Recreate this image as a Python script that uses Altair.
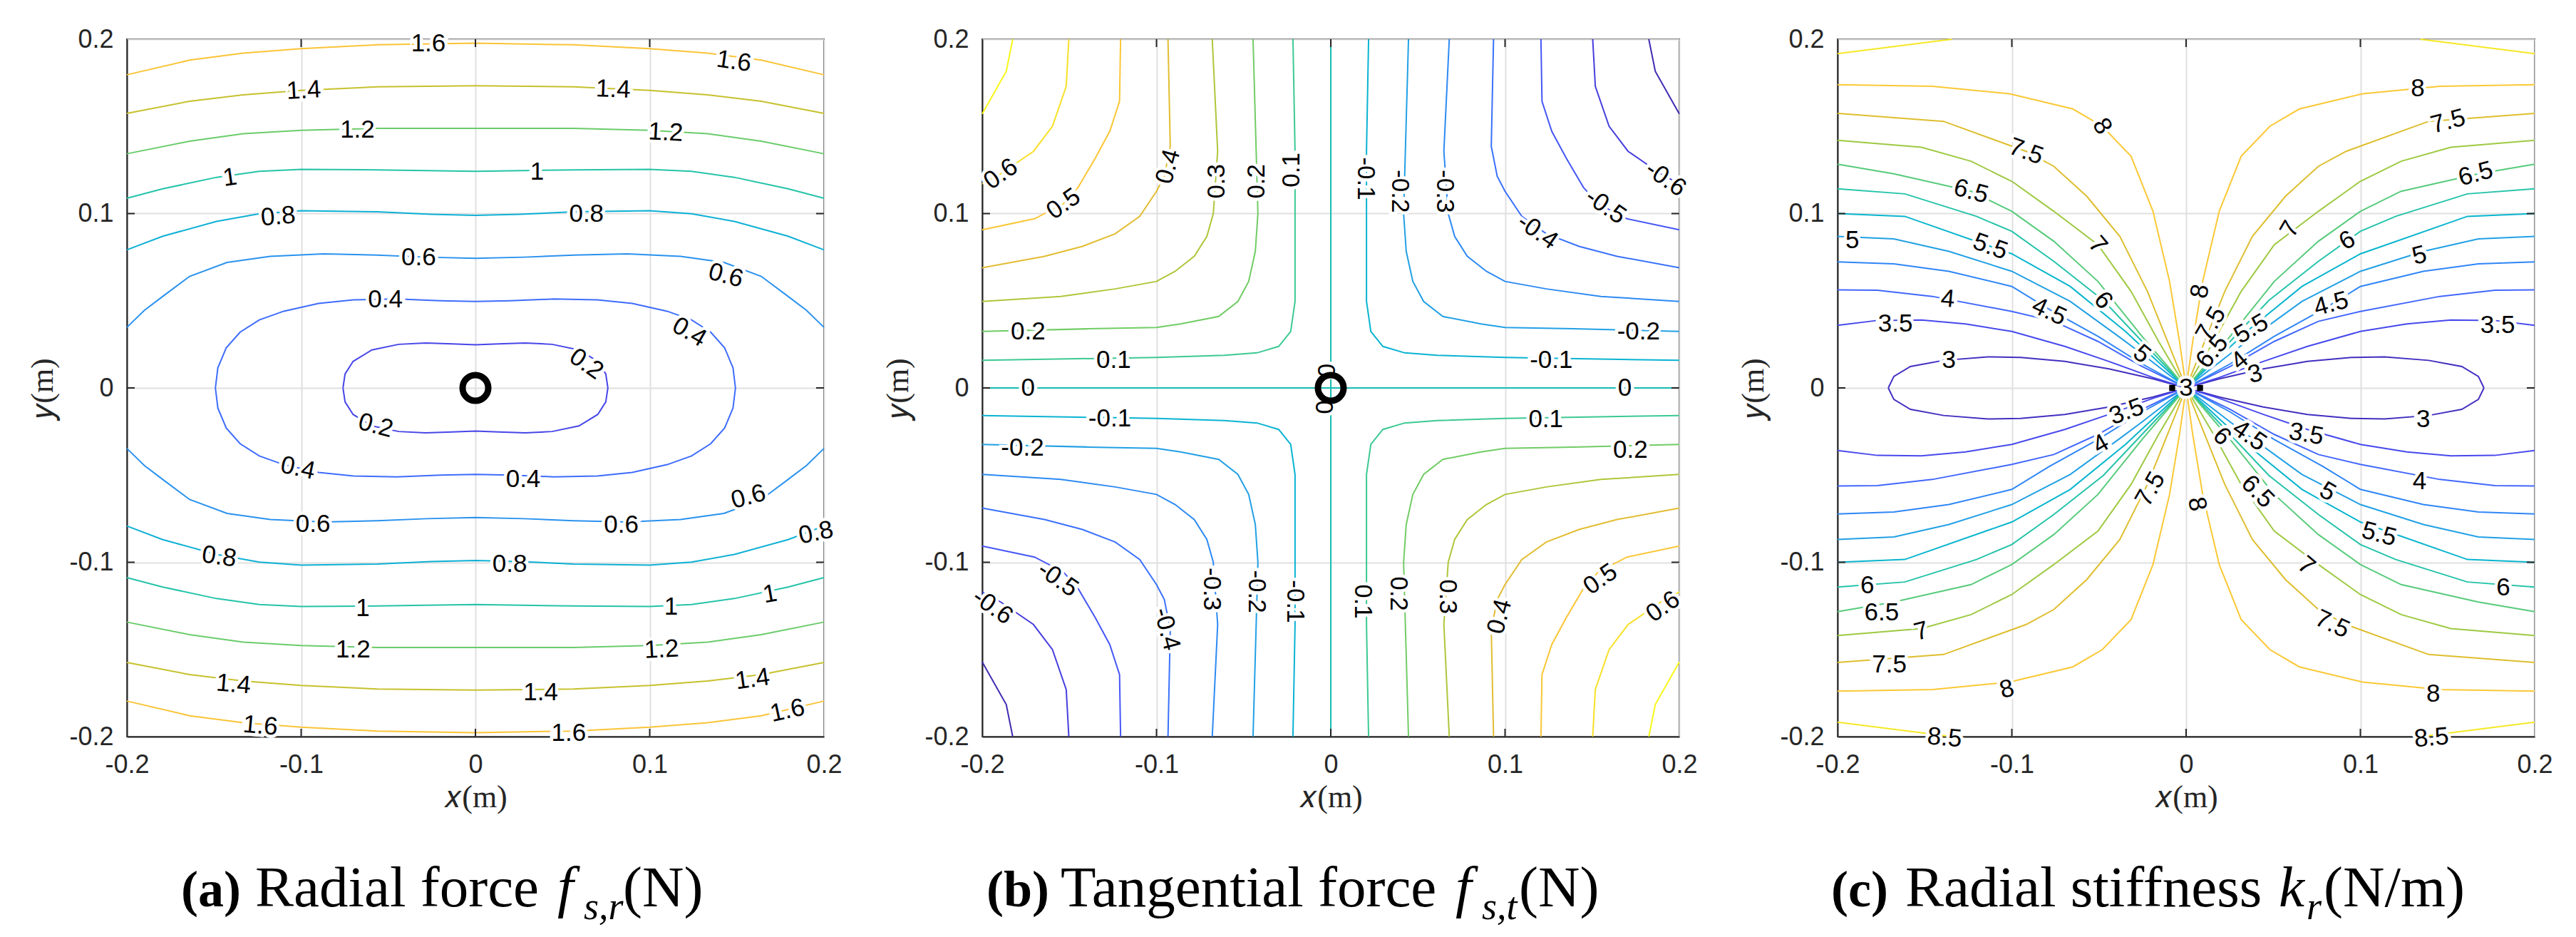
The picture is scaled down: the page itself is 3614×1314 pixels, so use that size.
import altair as alt
import pandas as pd

# ------------------------------------------------------------------
# Axis ticks shared by the three panels
TICKS = [-0.2, -0.1, 0.0, 0.1, 0.2]
INNER_TICKS = [-0.1, 0.0, 0.1]

# ------------------------------------------------------------------
# (a) Radial force: readings of the upper-left quadrant (x<=0, y>=0)
A_LEVELS = [0.2, 0.4, 0.6, 0.8, 1.0, 1.2, 1.4, 1.6]
A_LOOP_02 = [(-0.0760, 0.0), (-0.0748, 0.0080), (-0.0702, 0.0152), (-0.0594, 0.0218),
             (-0.0440, 0.0250), (-0.0286, 0.0258), (-0.0132, 0.0253), (0.0, 0.0247)]
A_LOOP_04 = [(-0.1492, 0.0), (-0.1478, 0.0115), (-0.1430, 0.0230), (-0.1350, 0.0320),
             (-0.1240, 0.0390), (-0.1100, 0.0440), (-0.0900, 0.0485), (-0.0700, 0.0505),
             (-0.0450, 0.0510), (-0.0200, 0.0500), (0.0, 0.0496)]
A_OPEN_06 = [(-0.2, 0.0347), (-0.19, 0.0445), (-0.1794, 0.0525), (-0.164, 0.064), (-0.1425, 0.072),
             (-0.1178, 0.0755), (-0.0871, 0.0769), (-0.0563, 0.0762), (-0.028, 0.0750), (0.0, 0.0743)]
A_OPEN_08 = [(-0.2, 0.0792), (-0.1794, 0.0870), (-0.1486, 0.0955), (-0.124, 0.0999), (-0.1, 0.1016),
             (-0.0563, 0.1010), (-0.0255, 0.0996), (0.0, 0.0990)]
A_OPEN_10 = [(-0.2, 0.1088), (-0.1794, 0.1142), (-0.1486, 0.1208), (-0.124, 0.1242), (-0.1, 0.1254),
             (-0.0563, 0.1251), (0.0, 0.1242)]
A_OPEN_12 = [(-0.2, 0.1343), (-0.164, 0.1415), (-0.1332, 0.1458), (-0.1, 0.1478), (-0.0563, 0.1489), (0.0, 0.1489)]
A_OPEN_14 = [(-0.2, 0.1575), (-0.164, 0.1644), (-0.1332, 0.1681), (-0.1, 0.1707), (-0.0563, 0.1727), (0.0, 0.1733)]
A_OPEN_16 = [(-0.2, 0.1796), (-0.164, 0.1880), (-0.1332, 0.1920), (-0.1, 0.1946), (-0.0563, 0.1968), (0.0, 0.1977)]
A_LABELS = [
    (-0.027, 0.1977, "1.6", 0), (0.1483, 0.1874, "1.6", 8),
    (-0.0985, 0.1707, "1.4", 357), (0.079, 0.1713, "1.4", 2),
    (-0.0677, 0.1482, "1.2", 0), (0.1092, 0.1466, "1.2", 3),
    (-0.1409, 0.1208, "1", 352), (0.0354, 0.1240, "1", 0),
    (-0.1132, 0.0984, "0.8", 355), (0.0637, 0.0999, "0.8", 0),
    (-0.0326, 0.0750, "0.6", 0), (0.1437, 0.0646, "0.6", 15),
    (-0.0517, 0.0508, "0.4", 0), (0.1228, 0.0321, "0.4", 30),
    (0.0637, 0.0138, "0.2", 35), (-0.0572, -0.0215, "0.2", 15),
    (-0.1018, -0.0459, "0.4", 12), (0.0274, -0.0525, "0.4", 0),
    (-0.0932, -0.0780, "0.6", 0), (0.0837, -0.0786, "0.6", 0), (0.1566, -0.0623, "0.6", 345),
    (-0.147, -0.0967, "0.8", 8), (0.0197, -0.1010, "0.8", 0), (0.1954, -0.0830, "0.8", 348),
    (-0.0646, -0.1262, "1", 0), (0.1123, -0.1254, "1", 0), (0.169, -0.1182, "1", 350),
    (-0.0702, -0.1500, "1.2", 0), (0.1068, -0.1500, "1.2", 357),
    (-0.1388, -0.1699, "1.4", 5), (0.0375, -0.1745, "1.4", 0), (0.159, -0.1670, "1.4", 352),
    (-0.1234, -0.1937, "1.6", 5), (0.0535, -0.1980, "1.6", 0), (0.179, -0.1850, "1.6", 348),
]

# ------------------------------------------------------------------
# (b) Tangential force: upper-left quadrant readings, from top edge to left edge
B_LEVELS = [-0.7, -0.6, -0.5, -0.4, -0.3, -0.2, -0.1, 0.0, 0.1, 0.2, 0.3, 0.4, 0.5, 0.6, 0.7]
B_Q_01 = [(-0.0217, 0.2), (-0.0205, 0.1357), (-0.0205, 0.0496), (-0.0230, 0.0324), (-0.0299, 0.0238),
          (-0.0424, 0.0201), (-0.0611, 0.0187), (-0.1, 0.0175), (-0.2, 0.0158)]
B_Q_02 = [(-0.0446, 0.2), (-0.0418, 0.1), (-0.0433, 0.0783), (-0.0471, 0.0611), (-0.0533, 0.0496),
          (-0.0643, 0.0410), (-0.0862, 0.0367), (-0.1, 0.0347), (-0.1393, 0.0339), (-0.2, 0.0324)]
B_Q_03 = [(-0.068, 0.2), (-0.0649, 0.1357), (-0.0674, 0.1), (-0.0711, 0.0869), (-0.0783, 0.0755),
          (-0.0893, 0.0669), (-0.1, 0.0611), (-0.1237, 0.0568), (-0.155, 0.0525), (-0.2, 0.0496)]
B_Q_04 = [(-0.0934, 0.2), (-0.0921, 0.1386), (-0.0955, 0.1214), (-0.1, 0.1128), (-0.1096, 0.0984),
          (-0.1237, 0.0884), (-0.1425, 0.0812), (-0.1643, 0.0755), (-0.2, 0.0689)]
B_Q_05 = [(-0.1206, 0.2), (-0.1212, 0.1644), (-0.1268, 0.1472), (-0.135, 0.1320), (-0.145, 0.1150),
          (-0.1534, 0.1056), (-0.17, 0.0970), (-0.2, 0.0907)]
B_Q_06 = [(-0.1503, 0.2), (-0.1518, 0.1730), (-0.1597, 0.1501), (-0.1706, 0.1357), (-0.1894, 0.1228), (-0.2, 0.1170)]
B_Q_07 = [(-0.1825, 0.2), (-0.1862, 0.1816), (-0.2, 0.1572)]
B_ZERO_H = [(-0.2, 0.0), (0.2, 0.0)]
B_ZERO_V = [(0.0, 0.2), (0.0, -0.2)]
B_LABELS = [
    (-0.1894, 0.1228, "0.6", 325), (-0.1534, 0.1056, "0.5", 325), (-0.0934, 0.127, "0.4", 285),
    (-0.0655, 0.1185, "0.3", 270), (-0.0424, 0.1185, "0.2", 270), (-0.0225, 0.1250, "0.1", 270),
    (0.0202, 0.12, "-0.1", 90), (0.0396, 0.1128, "-0.2", 90), (0.0655, 0.1128, "-0.3", 90),
    (0.1187, 0.0898, "-0.4", 35), (0.1578, 0.1042, "-0.5", 35), (0.1922, 0.12, "-0.6", 35),
    (-0.1737, 0.0324, "0.2", 0), (-0.1246, 0.0158, "0.1", 0), (-0.1737, 0.0, "0", 0),
    (0.1766, 0.0324, "-0.2", 0), (0.1265, 0.0158, "-0.1", 0), (0.1687, 0.0, "0", 0),
    (-0.1268, -0.0175, "-0.1", 0), (-0.1769, -0.0345, "-0.2", 0),
    (0.1234, -0.0180, "0.1", 0), (0.1719, -0.0355, "0.2", 0),
    (-0.0205, -0.1225, "-0.1", 90), (-0.0424, -0.1168, "-0.2", 90), (-0.0683, -0.1154, "-0.3", 90),
    (-0.094, -0.1383, "-0.4", 75), (-0.1565, -0.1096, "-0.5", 35), (-0.194, -0.1254, "-0.6", 35),
    (0.0186, -0.1225, "0.1", 90), (0.039, -0.118, "0.2", 90), (0.0671, -0.1197, "0.3", 90),
    (0.0968, -0.1311, "0.4", 285), (0.1547, -0.1096, "0.5", 325), (0.1906, -0.1254, "0.6", 325),
    (-0.002, 0.010, "0", 270), (-0.004, -0.011, "0", 90),
]

# ------------------------------------------------------------------
# (c) Radial stiffness: upper-left quadrant readings, from left edge to the origin
C_LEVELS = [3.0, 3.5, 4.0, 4.5, 5.0, 5.5, 6.0, 6.5, 7.0, 7.5, 8.0, 8.5]
C_LOBE_3 = [(-0.1709, 0.0), (-0.1677, 0.0066), (-0.1582, 0.0123), (-0.1392, 0.0158), (-0.1139, 0.0178),
            (-0.0949, 0.0175), (-0.0696, 0.0152), (-0.0443, 0.0109), (-0.019, 0.0052), (0.0, 0.0)]
C_Q_35 = [(-0.2, 0.0359), (-0.1772, 0.0387), (-0.1519, 0.0390), (-0.1266, 0.0367), (-0.1, 0.0324),
          (-0.0696, 0.0238), (-0.0443, 0.0152), (-0.019, 0.0060), (0.0, 0.0)]
C_Q_40 = [(-0.2, 0.0562), (-0.1772, 0.0560), (-0.1456, 0.0525), (-0.1, 0.0439), (-0.0759, 0.0382),
          (-0.0506, 0.0267), (-0.0253, 0.0123), (0.0, 0.0)]
C_Q_45 = [(-0.2, 0.0723), (-0.1677, 0.0712), (-0.1361, 0.0669), (-0.1, 0.0582), (-0.0785, 0.0450),
          (-0.0506, 0.0296), (-0.0253, 0.0138), (0.0, 0.0)]
C_Q_50 = [(-0.2, 0.0869), (-0.1677, 0.0855), (-0.1361, 0.0783), (-0.1, 0.0669), (-0.0665, 0.0496),
          (-0.0380, 0.0290), (-0.0253, 0.0195), (0.0, 0.0)]
C_Q_55 = [(-0.2, 0.1), (-0.1614, 0.0984), (-0.1123, 0.0812), (-0.1, 0.0769), (-0.0665, 0.0582),
          (-0.0348, 0.0324), (0.0, 0.0)]
C_Q_60 = [(-0.2, 0.1142), (-0.1614, 0.1113), (-0.1203, 0.0984), (-0.1, 0.0898), (-0.0759, 0.0726),
          (-0.0475, 0.0502), (-0.0253, 0.0267), (0.0, 0.0)]
C_Q_65 = [(-0.2, 0.1283), (-0.1677, 0.1228), (-0.1234, 0.1128), (-0.1, 0.1013), (-0.0759, 0.0841),
          (-0.0506, 0.0611), (-0.0253, 0.0296), (0.0, 0.0)]
C_Q_70 = [(-0.2, 0.1420), (-0.1519, 0.1380), (-0.1234, 0.1300), (-0.1, 0.1185), (-0.0759, 0.1013),
          (-0.0506, 0.0821), (-0.0316, 0.0554), (-0.0158, 0.0267), (0.0, 0.0)]
C_Q_75 = [(-0.2, 0.1575), (-0.1392, 0.1529), (-0.0918, 0.1357), (-0.0759, 0.1271), (-0.057, 0.1099),
          (-0.038, 0.0869), (-0.0222, 0.0554), (-0.0095, 0.0238), (0.0, 0.0)]
C_Q_80 = [(-0.2, 0.1739), (-0.1456, 0.1730), (-0.1013, 0.1687), (-0.0650, 0.1600), (-0.0481, 0.1501),
          (-0.0316, 0.1329), (-0.019, 0.1013), (-0.0095, 0.0611), (-0.0038, 0.0267), (0.0, 0.0)]
C_Q_85 = [(-0.2, 0.1917), (-0.1345, 0.2)]
C_DOTS = [(-0.008, 0.0), (0.008, 0.0)]
C_LABELS = [
    (-0.0481, 0.1501, "8", 60), (-0.0918, 0.1357, "7.5", 20), (-0.1234, 0.1128, "6.5", 15),
    (-0.1915, 0.0846, "5", 0), (-0.1123, 0.0812, "5.5", 20), (-0.0506, 0.0821, "7", 50),
    (-0.1367, 0.0511, "4", 5), (-0.0785, 0.0439, "4.5", 25), (-0.0475, 0.0502, "6", 50),
    (-0.1668, 0.0367, "3.5", 0), (-0.1361, 0.0158, "3", 0), (-0.0253, 0.0195, "5", 40),
    (0.1329, 0.1716, "8", 0), (0.1503, 0.1529, "7.5", 345), (0.1661, 0.1228, "6.5", 345),
    (0.0595, 0.0912, "7", 300), (0.0924, 0.0846, "6", 330), (0.1339, 0.076, "5", 345),
    (0.0832, 0.0482, "4.5", 345), (0.1788, 0.0359, "3.5", 0), (0.0079, 0.0554, "8", 280),
    (0.0142, 0.0367, "7.5", 300), (0.0373, 0.0339, "5.5", 330), (0.0149, 0.0209, "6.5", 310),
    (0.0307, 0.0158, "4", 320), (0.0396, 0.008, "3", 345),
    (0.1361, -0.0178, "3", 0), (0.069, -0.0264, "3.5", 10), (0.0364, -0.0273, "4.5", 35),
    (0.0206, -0.0278, "6", 45), (0.1339, -0.0537, "4", 0), (0.0813, -0.0594, "5", 30),
    (0.0411, -0.0594, "6.5", 45), (0.1108, -0.0838, "5.5", 15), (0.069, -0.1019, "7", 40),
    (0.182, -0.1145, "6", 0), (0.0839, -0.1354, "7.5", 25), (0.1418, -0.1756, "8", 0),
    (0.1408, -0.2006, "8.5", 355), (0.0063, -0.0666, "8", 80),
    (-0.0342, -0.0135, "3.5", 340), (-0.049, -0.0321, "4", 330), (-0.0206, -0.058, "7.5", 300),
    (-0.1829, -0.1132, "6", 0), (-0.1747, -0.1290, "6.5", 0), (-0.1519, -0.1395, "7", 345),
    (-0.1703, -0.1585, "7.5", 0), (-0.1028, -0.1727, "8", 345), (-0.1386, -0.2006, "8.5", 5),
    (0.0, 0.0, "3", 0),
]

# ------------------------------------------------------------------
# parula colour map anchors (styling only)
PARULA = [
    (0.2422, 0.1504, 0.6603), (0.2706, 0.2147, 0.8364), (0.2813, 0.3006, 0.9414), (0.2699, 0.3892, 0.9906),
    (0.1963, 0.4847, 0.9892), (0.1687, 0.5703, 0.9359), (0.1248, 0.6459, 0.8883), (0.0297, 0.7082, 0.8163),
    (0.0964, 0.7500, 0.7120), (0.2161, 0.7843, 0.5923), (0.3909, 0.8029, 0.4354), (0.6174, 0.7876, 0.2612),
    (0.8203, 0.7498, 0.1535), (0.9728, 0.7298, 0.2394), (0.9892, 0.8136, 0.1885), (0.9597, 0.9135, 0.1423),
    (0.9769, 0.9839, 0.0805),
]


def parula(t):
    t = min(max(t, 0.0), 1.0)
    pos = t * (len(PARULA) - 1)
    i = int(pos)
    if i >= len(PARULA) - 1:
        c = PARULA[-1]
    else:
        f = pos - i
        c = [PARULA[i][k] * (1 - f) + PARULA[i + 1][k] * f for k in range(3)]
    return "#%02x%02x%02x" % tuple(int(round(v * 255)) for v in c)


def fmt(v):
    s = ("%.1f" % v).rstrip("0").rstrip(".")
    return "0" if s in ("-0", "") else s


# ------------------------------------------------------------------
# build tables
rows_a, rows_b, rows_c = [], [], []


def add(rows, pts, lev, seg):
    for k, (x, y) in enumerate(pts):
        rows.append({"x": x, "y": y, "lev": fmt(lev), "seg": seg, "ord": k})


def upper_from_quarter(q):
    return list(q) + [(-x, y) for (x, y) in reversed(q[:-1])]


# panel a
seg = 0
for lev, q in [(0.2, A_LOOP_02), (0.4, A_LOOP_04)]:
    u = upper_from_quarter(q)
    loop = u + [(x, -y) for (x, y) in reversed(u)][1:]
    add(rows_a, loop, lev, seg); seg += 1
for lev, q in [(0.6, A_OPEN_06), (0.8, A_OPEN_08), (1.0, A_OPEN_10), (1.2, A_OPEN_12),
               (1.4, A_OPEN_14), (1.6, A_OPEN_16)]:
    u = upper_from_quarter(q)
    add(rows_a, u, lev, seg); seg += 1
    add(rows_a, [(x, -y) for (x, y) in u], lev, seg); seg += 1

# panel b
seg = 0
for lev, q in [(0.1, B_Q_01), (0.2, B_Q_02), (0.3, B_Q_03), (0.4, B_Q_04), (0.5, B_Q_05),
               (0.6, B_Q_06), (0.7, B_Q_07)]:
    add(rows_b, q, lev, seg); seg += 1
    add(rows_b, [(-x, -y) for (x, y) in q], lev, seg); seg += 1
    add(rows_b, [(-x, y) for (x, y) in q], -lev, seg); seg += 1
    add(rows_b, [(x, -y) for (x, y) in q], -lev, seg); seg += 1
add(rows_b, B_ZERO_H, 0.0, seg); seg += 1
add(rows_b, B_ZERO_V, 0.0, seg); seg += 1

# panel c
seg = 0
lobe = list(C_LOBE_3) + [(x, -y) for (x, y) in reversed(C_LOBE_3)][1:]
add(rows_c, lobe, 3.0, seg); seg += 1
add(rows_c, [(-x, y) for (x, y) in lobe], 3.0, seg); seg += 1
for lev, q in [(3.5, C_Q_35), (4.0, C_Q_40), (4.5, C_Q_45), (5.0, C_Q_50), (5.5, C_Q_55),
               (6.0, C_Q_60), (6.5, C_Q_65), (7.0, C_Q_70), (7.5, C_Q_75), (8.0, C_Q_80), (8.5, C_Q_85)]:
    for sx, sy in [(1, 1), (-1, 1), (1, -1), (-1, -1)]:
        add(rows_c, [(sx * x, sy * y) for (x, y) in q], lev, seg); seg += 1

df_a, df_b, df_c = pd.DataFrame(rows_a), pd.DataFrame(rows_b), pd.DataFrame(rows_c)


def lab_df(lst):
    return pd.DataFrame([{"x": x, "y": y, "t": t, "a": a} for (x, y, t, a) in lst])


# ------------------------------------------------------------------
W = 978
H = 978
XS = alt.Scale(domain=[-0.2, 0.2], nice=False, zero=False)
YS = alt.Scale(domain=[-0.2, 0.2], nice=False, zero=False)
LABEL_EXPR = "datum.value < 0 ? '-' + format(-datum.value, '.1~f') : format(datum.value, '.1~f')"
AX_X = alt.Axis(values=TICKS, title="𝑥(m)", labelExpr=LABEL_EXPR, grid=True, ticks=False,
                labelFlush=False, labelOverlap=False, labelPadding=22, titlePadding=6)
AX_Y = alt.Axis(values=TICKS, title="𝑦(m)", labelExpr=LABEL_EXPR, grid=True, ticks=False,
                labelFlush=False, labelOverlap=False, labelPadding=19, titlePadding=14)
X = alt.X("x:Q", scale=XS, axis=AX_X)
Y = alt.Y("y:Q", scale=YS, axis=AX_Y)
DARK = "#262626"


def caption(text, px, py, size, style="normal", weight="normal"):
    return alt.Chart(pd.DataFrame({"t": [text]})).mark_text(
        align="left", baseline="alphabetic", font="Liberation Serif", fontSize=size,
        fontStyle=style, fontWeight=weight, color="black"
    ).encode(text="t:N", x=alt.value(px), y=alt.value(py))


def panel(df, levels, tfun, labels, caps, circle=False, dots=None):
    dom = [fmt(v) for v in levels]
    rng = [parula(tfun(v)) for v in levels]
    lines = alt.Chart(df).mark_line(strokeWidth=2).encode(
        x=X, y=Y, detail="seg:N", order="ord:Q",
        color=alt.Color("lev:N", scale=alt.Scale(domain=dom, range=rng), legend=None))
    tk = pd.DataFrame({"x": INNER_TICKS, "y": INNER_TICKS})
    tick_b = alt.Chart(tk).mark_rule(color=DARK, strokeWidth=2).encode(x=X, y=alt.value(H), y2=alt.value(H - 11))
    tick_t = alt.Chart(tk).mark_rule(color=DARK, strokeWidth=2).encode(x=X, y=alt.value(0), y2=alt.value(11))
    tick_l = alt.Chart(tk).mark_rule(color=DARK, strokeWidth=2).encode(y=Y, x=alt.value(0), x2=alt.value(11))
    tick_r = alt.Chart(tk).mark_rule(color=DARK, strokeWidth=2).encode(y=Y, x=alt.value(W), x2=alt.value(W - 11))
    ld = lab_df(labels)
    halo = alt.Chart(ld).mark_text(font="Liberation Sans", fontSize=35, color="white", stroke="white",
                                   strokeWidth=9, align="center", baseline="middle").encode(
        x=X, y=Y, text="t:N", angle=alt.Angle("a:Q", scale=None))
    txt = alt.Chart(ld).mark_text(font="Liberation Sans", fontSize=35, color="black",
                                  align="center", baseline="middle").encode(
        x=X, y=Y, text="t:N", angle=alt.Angle("a:Q", scale=None))
    layers = [lines, tick_b, tick_t, tick_l, tick_r, halo, txt]
    if circle:
        layers.append(alt.Chart(pd.DataFrame({"x": [0.0], "y": [0.0]})).mark_point(
            shape="circle", filled=False, size=1300, strokeWidth=9, color="black", opacity=1).encode(x=X, y=Y))
    if dots:
        layers.append(alt.Chart(pd.DataFrame({"x": [d[0] for d in dots], "y": [d[1] for d in dots]})).mark_point(
            shape="square", filled=True, size=70, color="black", opacity=1).encode(x=X, y=Y))
    layers += caps
    return alt.layer(*layers).properties(width=W, height=H)


CAP_Y = 1216
SUB_Y = 1234
CF = 81     # caption font size
BF = 72     # bold "(a)" size
SF = 54     # subscript size
caps_a = [caption("(a)", 76, CAP_Y, BF, weight="bold"), caption("Radial force", 180, CAP_Y, CF),
          caption("f", 604, CAP_Y, CF, style="italic"), caption("s,r", 641, SUB_Y, SF, style="italic"),
          caption("(N)", 696, CAP_Y, CF)]
caps_b = [caption("(b)", 6, CAP_Y, BF, weight="bold"), caption("Tangential force", 110, CAP_Y, CF),
          caption("f", 664, CAP_Y, CF, style="italic"), caption("s,t", 701, SUB_Y, SF, style="italic"),
          caption("(N)", 753, CAP_Y, CF)]
caps_c = [caption("(c)", -9, CAP_Y, BF, weight="bold"), caption("Radial stiffness", 95, CAP_Y, CF),
          caption("k", 619, CAP_Y, CF, style="italic"), caption("r", 658, SUB_Y, SF, style="italic"),
          caption("(N/m)", 682, CAP_Y, CF)]

pa = panel(df_a, A_LEVELS, lambda v: v / 1.9, A_LABELS, caps_a, circle=True)
pb = panel(df_b, B_LEVELS, lambda v: (v + 0.72) / 1.44, B_LABELS, caps_b, circle=True)
pc = panel(df_c, C_LEVELS, lambda v: (v - 2.8) / 6.1, C_LABELS, caps_c, dots=C_DOTS)

chart = alt.hconcat(pa, pb, pc, spacing=222, bounds="flush").resolve_scale(
    color="independent"
).configure_view(
    stroke=DARK, strokeWidth=2
).configure_axis(
    labelFont="Liberation Sans", labelFontSize=36, labelColor=DARK,
    titleFont="Liberation Serif", titleFontSize=44, titleFontWeight="normal", titleColor=DARK,
    domainColor=DARK, domainWidth=2, gridColor="#E0E0E0", gridWidth=2
).properties(padding={"left": 29, "top": 28, "right": 10, "bottom": 10}, background="white")

chart.save("out.html", embed_options={"renderer": "svg", "actions": False})
